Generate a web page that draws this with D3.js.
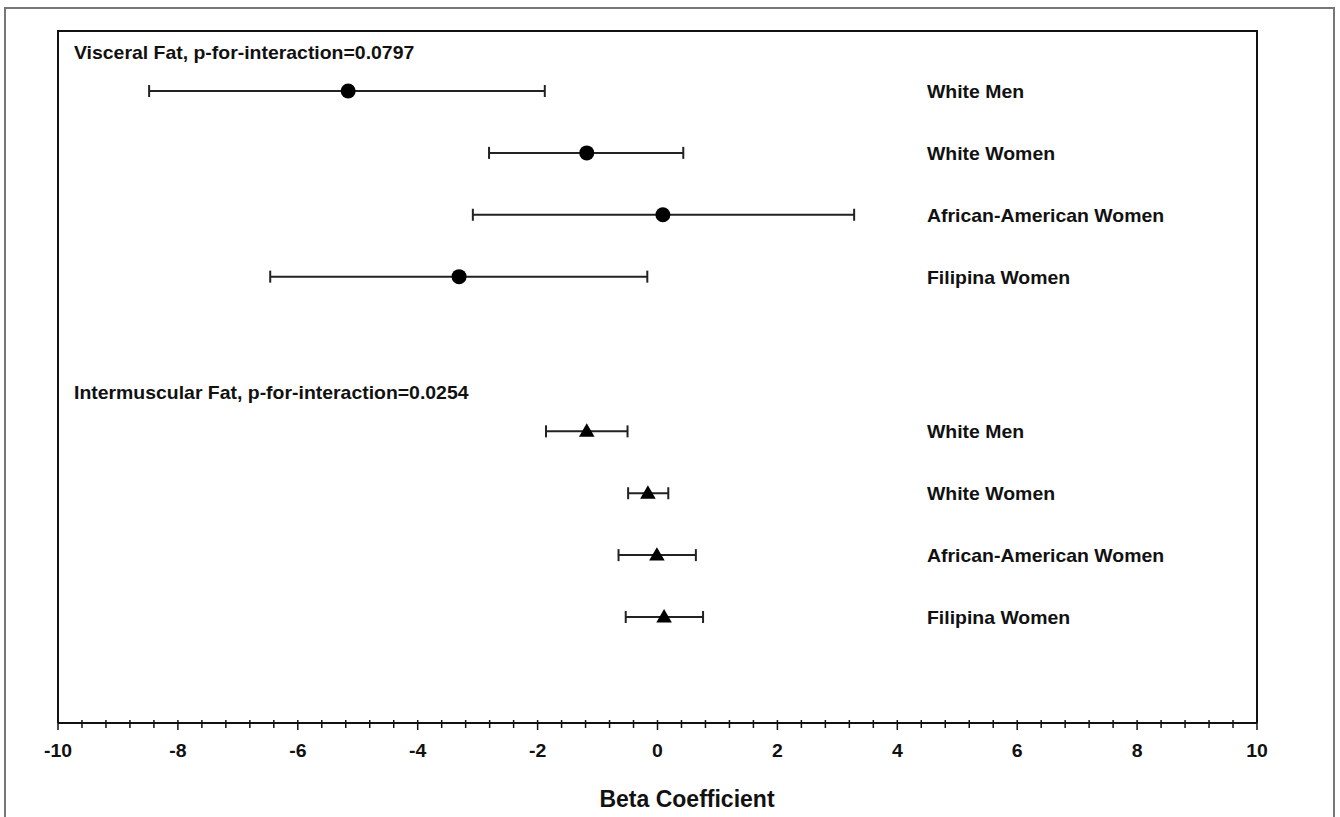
<!DOCTYPE html>
<html>
<head>
<meta charset="utf-8">
<script src="https://cdn.jsdelivr.net/npm/d3@7"></script>
<style>
  html, body { margin: 0; padding: 0; background: #fff; }
  svg { display: block; }
  text { font-family: "Liberation Sans", Arial, Helvetica, sans-serif; font-weight: bold; fill: #111; }
</style>
</head>
<body>
<svg id="chart" width="1340" height="817"></svg>
<script>
// ---- Data ----
const groups = ["White Men", "White Women", "African-American Women", "Filipina Women"];
const panelTitles = ["Visceral Fat, p-for-interaction=0.0797", "Intermuscular Fat, p-for-interaction=0.0254"];
const visceralBeta  = [-5.16, -1.18, 0.09, -3.31];
const visceralLow   = [-8.48, -2.81, -3.08, -6.46];
const visceralHigh  = [-1.88, 0.43, 3.28, -0.17];
const interBeta     = [-1.18, -0.16, -0.01, 0.11];
const interLow      = [-1.86, -0.49, -0.65, -0.53];
const interHigh     = [-0.50, 0.18, 0.64, 0.76];
const xTicks = [-10, -8, -6, -4, -2, 0, 2, 4, 6, 8, 10];
const xTitle = "Beta Coefficient";

// ---- Layout ----
const svg = d3.select("#chart");
const plot = { left: 58, right: 1257, top: 31, bottom: 723 };
const STRETCH = 1.08; // reference text is slightly wide

const x = d3.scaleLinear().domain([-10, 10]).range([plot.left, plot.right]);
// row positions: visceral rows 0..3, intermuscular rows 5.5..8.5
const y = d3.scaleLinear().domain([0, 8.5]).range([91, 617]);

// outer frame
svg.append("path")
  .attr("d", `M5,830 L5,8 L1334,8 L1334,830`)
  .attr("fill", "none").attr("stroke", "#777").attr("stroke-width", 2);

// inner frame (left, top, right)
svg.append("path")
  .attr("d", `M${plot.left},${plot.bottom} L${plot.left},${plot.top} L${plot.right},${plot.top} L${plot.right},${plot.bottom}`)
  .attr("fill", "none").attr("stroke", "#111").attr("stroke-width", 2);

// axis
const minorTicks = d3.range(-10, 10.001, 0.4).map(v => +v.toFixed(2));
const axisG = svg.append("g").attr("transform", `translate(0,${plot.bottom})`);
axisG.append("line").attr("x1", plot.left).attr("x2", plot.right)
  .attr("stroke", "#111").attr("stroke-width", 2);
axisG.selectAll("line.minor").data(minorTicks).join("line")
  .attr("class", "minor")
  .attr("x1", d => x(d)).attr("x2", d => x(d))
  .attr("y1", -3).attr("y2", d => (xTicks.some(t => Math.abs(t - d) < 1e-6) ? 7 : 5))
  .attr("stroke", "#111").attr("stroke-width", 1.5);
axisG.selectAll("text.tick").data(xTicks).join("text")
  .attr("class", "tick")
  .attr("transform", d => `translate(${x(d)},34) scale(${STRETCH},1)`)
  .attr("text-anchor", "middle")
  .attr("font-size", 18)
  .text(d => d);

svg.append("text")
  .attr("x", 687).attr("y", 807)
  .attr("text-anchor", "middle")
  .attr("font-size", 23)
  .text(xTitle);

// panels
const panels = [
  { title: panelTitles[0], beta: visceralBeta, lo: visceralLow, hi: visceralHigh, rows: [0, 1, 2, 3], symbol: "circle" },
  { title: panelTitles[1], beta: interBeta, lo: interLow, hi: interHigh, rows: [5.5, 6.5, 7.5, 8.5], symbol: "triangle" }
];

panels.forEach(p => {
  svg.append("text")
    .attr("transform", `translate(74,${y(p.rows[0]) - 32}) scale(${STRETCH},1)`)
    .attr("font-size", 18)
    .text(p.title);

  const data = groups.map((g, i) => ({ g, b: p.beta[i], lo: p.lo[i], hi: p.hi[i], r: p.rows[i] }));
  const gg = svg.append("g");
  // CI lines
  gg.selectAll("line.ci").data(data).join("line")
    .attr("class", "ci")
    .attr("x1", d => x(d.lo)).attr("x2", d => x(d.hi))
    .attr("y1", d => y(d.r)).attr("y2", d => y(d.r))
    .attr("stroke", "#222").attr("stroke-width", 2);
  // caps
  ["lo", "hi"].forEach(k => {
    gg.selectAll("line.cap-" + k).data(data).join("line")
      .attr("class", "cap-" + k)
      .attr("x1", d => x(d[k])).attr("x2", d => x(d[k]))
      .attr("y1", d => y(d.r) - 6).attr("y2", d => y(d.r) + 6)
      .attr("stroke", "#222").attr("stroke-width", 2);
  });
  // markers
  if (p.symbol === "circle") {
    gg.selectAll("circle").data(data).join("circle")
      .attr("cx", d => x(d.b)).attr("cy", d => y(d.r)).attr("r", 7.5)
      .attr("fill", "#000");
  } else {
    const tri = d3.symbol().type(d3.symbolTriangle).size(105);
    gg.selectAll("path.tri").data(data).join("path")
      .attr("class", "tri")
      .attr("transform", d => `translate(${x(d.b)},${y(d.r) + 1})`)
      .attr("d", tri)
      .attr("fill", "#000");
  }
  // labels
  gg.selectAll("text.lab").data(data).join("text")
    .attr("class", "lab")
    .attr("transform", d => `translate(927,${y(d.r) + 7}) scale(${STRETCH},1)`)
    .attr("font-size", 18)
    .text(d => d.g);
});
</script>
</body>
</html>
